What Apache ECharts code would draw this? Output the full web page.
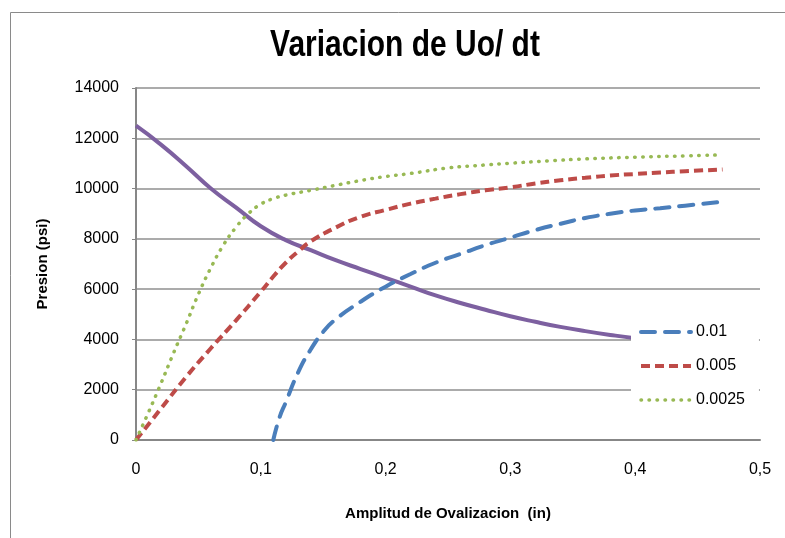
<!DOCTYPE html>
<html>
<head>
<meta charset="utf-8">
<script src="https://cdn.jsdelivr.net/npm/echarts@6/dist/echarts.min.js"></script>
<style>
html,body{margin:0;padding:0;background:#fff;}
#chart{width:785px;height:538px;}
</style>
</head>
<body>
<div id="chart"></div>
<script>
const titleText = 'Variacion de Uo/ dt';
const xAxisName = 'Amplitud de Ovalizacion  (in)';
const yAxisName = 'Presion (psi)';

const blueName = '0.01';
const blueX = [0.11, 0.115, 0.12, 0.13, 0.14, 0.15, 0.16, 0.18, 0.20, 0.22, 0.24, 0.26, 0.28, 0.30, 0.32, 0.34, 0.36, 0.38, 0.40, 0.42, 0.44, 0.47];
const blueY = [0, 900, 1500, 2700, 3600, 4300, 4800, 5500, 6100, 6600, 7050, 7400, 7750, 8050, 8350, 8600, 8830, 9000, 9130, 9220, 9320, 9480];

const redName = '0.005';
const redX = [0, 0.02, 0.04, 0.06, 0.08, 0.10, 0.11, 0.12, 0.13, 0.14, 0.16, 0.18, 0.20, 0.22, 0.24, 0.26, 0.28, 0.30, 0.32, 0.34, 0.36, 0.38, 0.40, 0.42, 0.44, 0.47];
const redY = [0, 1250, 2500, 3650, 4750, 5900, 6500, 7050, 7500, 7900, 8450, 8880, 9150, 9400, 9600, 9780, 9930, 10050, 10200, 10330, 10430, 10520, 10580, 10640, 10690, 10760];

const greenName = '0.0025';
const greenX = [0, 0.01, 0.02, 0.03, 0.04, 0.05, 0.06, 0.07, 0.08, 0.09, 0.10, 0.11, 0.12, 0.14, 0.16, 0.18, 0.20, 0.22, 0.25, 0.28, 0.30, 0.33, 0.36, 0.40, 0.44, 0.47];
const greenY = [0, 1100, 2250, 3450, 4600, 5800, 6850, 7750, 8450, 9000, 9380, 9600, 9740, 9930, 10130, 10320, 10480, 10600, 10820, 10940, 11010, 11100, 11180, 11250, 11300, 11340];

const purpleName = 'P';
const purpleX = [0, 0.02, 0.04, 0.06, 0.08, 0.10, 0.12, 0.14, 0.16, 0.18, 0.20, 0.22, 0.24, 0.26, 0.28, 0.30, 0.32, 0.34, 0.36, 0.38, 0.40, 0.42, 0.44, 0.47];
const purpleY = [12500, 11750, 10900, 10000, 9250, 8500, 7950, 7550, 7150, 6800, 6450, 6100, 5750, 5450, 5180, 4920, 4700, 4500, 4330, 4180, 4050, 3950, 3870, 3780];

const xTicks = {min: 0, max: 0.5, interval: 0.1};
const yTicks = {min: 0, max: 14000, interval: 2000};

const pairs = (xs, ys) => xs.map((x, i) => [x, ys[i]]);

const blueLine = {color: '#4A7EBB', width: 4, type: [14, 10], cap: 'round'};
const redLine = {color: '#BE4B48', width: 4, type: [9, 5], cap: 'butt'};
const greenLine = {color: '#98B954', width: 3.5, type: [0.5, 7.5], cap: 'round'};

const chart = echarts.init(document.getElementById('chart'), null, {renderer: 'canvas'});
const axisGray = '#878787';
chart.setOption({
  animation: false,
  backgroundColor: '#fff',
  graphic: [{
    type: 'rect', left: 8, top: 10, z: -10, silent: true,
    shape: {width: 800, height: 600},
    style: {fill: 'none', stroke: '#8a8a8a', lineWidth: 1}
  }, {
    type: 'text', x: 405, y: 46, scaleX: 0.81, z: 10, silent: true,
    style: {text: titleText, x: 0, y: 0, align: 'center', verticalAlign: 'middle',
      fontFamily: 'Liberation Sans, Arial, sans-serif', fontWeight: 'bold', fontSize: 37, fill: '#000'}
  }],
  grid: {left: 136, right: 25, top: 88, bottom: 98},
  legend: {
    orient: 'vertical', left: 631, top: 312,
    padding: [12, 14, 14, 8],
    backgroundColor: '#fff',
    itemWidth: 50, itemHeight: 14, itemGap: 18,
    itemStyle: {opacity: 0},
    data: [
      {name: blueName, lineStyle: blueLine},
      {name: redName, lineStyle: redLine},
      {name: greenName, lineStyle: greenLine}
    ],
    textStyle: {fontFamily: 'Liberation Sans, Arial, sans-serif', fontSize: 16, color: '#000', lineHeight: 14, height: 14}
  },
  xAxis: {
    type: 'value', min: xTicks.min, max: xTicks.max, interval: xTicks.interval,
    name: xAxisName, nameLocation: 'middle', nameGap: 66,
    nameTextStyle: {fontFamily: 'Liberation Sans, Arial, sans-serif', fontWeight: 'bold', fontSize: 15, color: '#000'},
    axisLine: {show: true, lineStyle: {color: axisGray, width: 2}},
    axisTick: {show: false},
    splitLine: {show: false},
    axisLabel: {margin: 22, fontFamily: 'Liberation Sans, Arial, sans-serif', fontSize: 16, color: '#000',
      formatter: v => String(Math.round(v * 10) / 10).replace('.', ',')}
  },
  yAxis: {
    type: 'value', min: yTicks.min, max: yTicks.max, interval: yTicks.interval,
    name: yAxisName, nameLocation: 'middle', nameGap: 86, nameRotate: 90,
    nameTextStyle: {fontFamily: 'Liberation Sans, Arial, sans-serif', fontWeight: 'bold', fontSize: 15, color: '#000'},
    axisLine: {show: true, lineStyle: {color: axisGray, width: 2}},
    axisTick: {show: true, length: 4, lineStyle: {color: axisGray, width: 1}},
    splitLine: {show: true, lineStyle: {color: '#8f8f8f', width: 1.5}},
    axisLabel: {margin: 17, fontFamily: 'Liberation Sans, Arial, sans-serif', fontSize: 16, color: '#000',
      formatter: v => String(v)}
  },
  series: [
    {name: purpleName, type: 'line', smooth: true, symbol: 'none', data: pairs(purpleX, purpleY),
      lineStyle: {color: '#7D60A0', width: 4}, itemStyle: {color: '#7D60A0'}, z: 2},
    {name: blueName, type: 'line', smooth: true, symbol: 'none', data: pairs(blueX, blueY),
      lineStyle: blueLine, itemStyle: {color: '#4A7EBB'}, z: 3},
    {name: redName, type: 'line', smooth: true, symbol: 'none', data: pairs(redX, redY),
      lineStyle: redLine, itemStyle: {color: '#BE4B48'}, z: 3},
    {name: greenName, type: 'line', smooth: true, symbol: 'none', data: pairs(greenX, greenY),
      lineStyle: greenLine, itemStyle: {color: '#98B954'}, z: 3}
  ]
});
</script>
</body>
</html>
